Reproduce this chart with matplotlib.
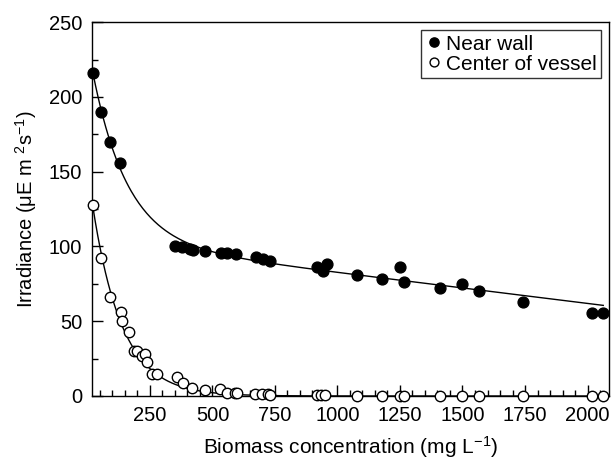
import numpy as np
import matplotlib
matplotlib.use("Agg")
import matplotlib.pyplot as plt
from matplotlib.ticker import MultipleLocator

plt.rcParams["font.family"] = ["Liberation Sans", "DejaVu Sans"]
plt.rcParams["mathtext.fontset"] = "custom"
plt.rcParams["mathtext.rm"] = "Liberation Sans"
plt.rcParams["mathtext.it"] = "Liberation Sans:italic"

# Near wall (filled circles)
wall_x = [22, 54, 90, 131, 350, 377, 410, 423, 470, 533, 557, 594, 674, 703,
          730, 917, 941, 957, 1077, 1177, 1250, 1266, 1410, 1499, 1566, 1741,
          2017, 2063]
wall_y = [216, 190, 170, 156, 100.5, 99.4, 98, 97.6, 97.2, 95.4, 95.4, 94.9,
          92.7, 91.4, 90.5, 86.1, 83.8, 88.3, 81, 78, 86, 76, 72, 75, 70.4, 63,
          55.3, 55.3]

# Center of vessel (open circles)
center_x = [21, 53, 90, 133, 137, 167, 186, 200, 217, 230, 237, 259, 277, 357,
            381, 417, 470, 530, 557, 590, 597, 670, 697, 723, 730, 917, 933,
            949, 1077, 1177, 1250, 1266, 1410, 1499, 1566, 1741, 2017, 2063]
center_y = [128, 92, 66, 56, 50, 43, 30, 30, 27, 28, 23, 15, 15, 12.5, 8.5,
            5.5, 4, 4.5, 2.2, 1.8, 2, 1.3, 1.3, 1.3, 0.7, 0.5, 0.5, 0.5, 0, 0,
            0, 0, 0, 0, 0, 0, 0, 0]

# fitted curve parameters
WALL_FIT = dict(a=103.3, b=-0.0207, c=132.6, k=138.0)
CENTER_FIT = dict(c=152.0, k=118.0)

fig = plt.figure(figsize=(6.13, 4.61), dpi=100)
ax = fig.add_axes([0.150, 0.141, 0.8435, 0.811])

xs = np.linspace(min(wall_x), max(wall_x), 400)
wf = WALL_FIT
ax.plot(xs, wf["a"] + wf["b"] * xs + wf["c"] * np.exp(-xs / wf["k"]),
        color="black", lw=1.0, zorder=2)
xs2 = np.linspace(min(center_x), max(center_x), 400)
ax.plot(xs2, CENTER_FIT["c"] * np.exp(-xs2 / CENTER_FIT["k"]),
        color="black", lw=1.0, zorder=2)

ax.plot(wall_x, wall_y, "o", ms=7.8, mfc="black", mec="black",
        label="Near wall", zorder=3, clip_on=False)
ax.plot(center_x, center_y, "o", ms=7.5, mfc="white", mec="black", mew=1.0,
        label="Center of vessel", zorder=3, clip_on=False)

ax.set_xlim(18, 2086)
ax.set_ylim(0, 250)
ax.xaxis.set_major_locator(MultipleLocator(250))
ax.xaxis.set_minor_locator(MultipleLocator(50))
ax.yaxis.set_major_locator(MultipleLocator(50))
ax.yaxis.set_minor_locator(MultipleLocator(25))
ax.tick_params(which="both", direction="in", top=False, right=False,
               labelsize=14.5, width=1.0, pad=7)
ax.tick_params(which="major", length=8)
ax.tick_params(which="minor", length=4.5)
for s in ax.spines.values():
    s.set_linewidth(1.0)

ax.set_xlabel("Biomass concentration (mg L$^{-1}$)", fontsize=15, labelpad=7)
ax.set_ylabel("Irradiance (μE m $^{2}$s$^{-1}$)", fontsize=14.5, labelpad=7)

leg = ax.legend(loc="upper right", fontsize=15, frameon=True, fancybox=False,
                handlelength=0.9, handletextpad=0.1, borderpad=0.2,
                labelspacing=0.05, borderaxespad=0.4, markerscale=0.85)
leg.get_frame().set_edgecolor("black")
leg.get_frame().set_linewidth(1.0)

fig.savefig("out.png", dpi=100)
